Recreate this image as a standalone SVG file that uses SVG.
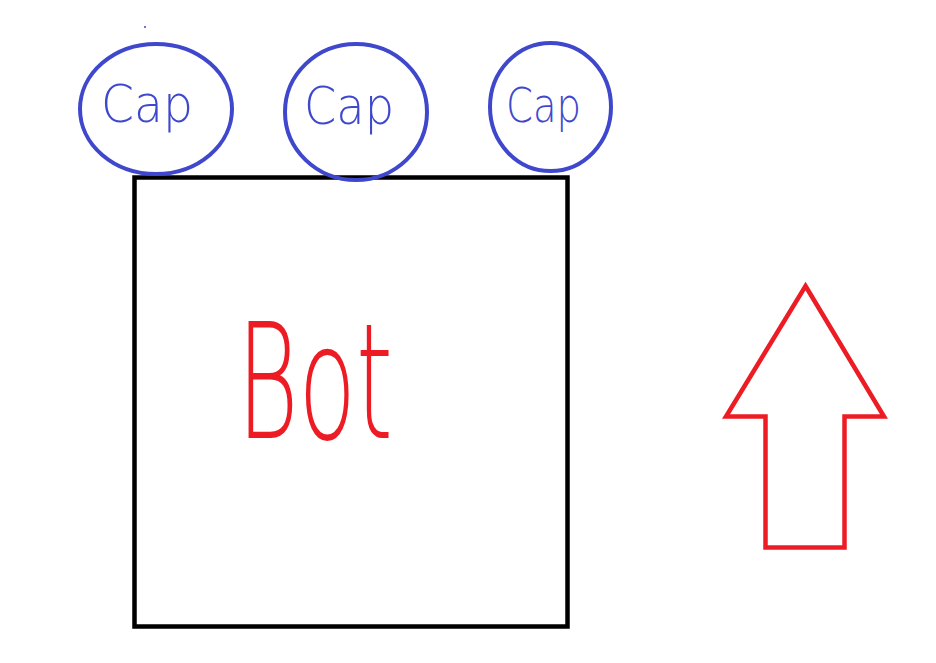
<svg xmlns="http://www.w3.org/2000/svg" width="936" height="663" viewBox="0 0 936 663">
<style>
.cap{fill:none;stroke:#3f48cc;stroke-width:4}
.capt{fill:#3f48cc;font-family:"DejaVu Sans","Liberation Sans",sans-serif;font-weight:200}
.red{fill:none;stroke:#ed1c24;stroke-width:4.5;stroke-linejoin:miter}
</style>
<rect width="936" height="663" fill="#ffffff"/>
<circle cx="145" cy="27" r="1" fill="#3f48cc"/>
<g id="bot">
<rect x="134.5" y="177.5" width="433" height="449" fill="none" stroke="#000000" stroke-width="4.5"/>
<text x="237" y="438" font-family="DejaVu Sans, Liberation Sans, sans-serif" font-size="160" font-weight="200" fill="#ed1c24" textLength="156" lengthAdjust="spacingAndGlyphs">Bot</text>
</g>
<g id="cap1">
<ellipse class="cap" cx="156" cy="109" rx="76" ry="65"/>
<text class="capt" x="101" y="122" font-size="52" textLength="92" lengthAdjust="spacingAndGlyphs">Cap</text>
</g>
<g id="cap2">
<ellipse class="cap" cx="356" cy="112" rx="71" ry="68"/>
<text class="capt" x="304" y="124" font-size="52" textLength="90" lengthAdjust="spacingAndGlyphs">Cap</text>
</g>
<g id="cap3">
<ellipse class="cap" cx="550.5" cy="107" rx="60.5" ry="64"/>
<text class="capt" x="506" y="122" font-size="48" textLength="75" lengthAdjust="spacingAndGlyphs">Cap</text>
</g>
<g id="arrow">
<polygon class="red" points="805.5,286 884,416.5 844.5,416.5 844.5,547.5 765.5,547.5 765.5,416.5 726,416.5"/>
</g>
</svg>
